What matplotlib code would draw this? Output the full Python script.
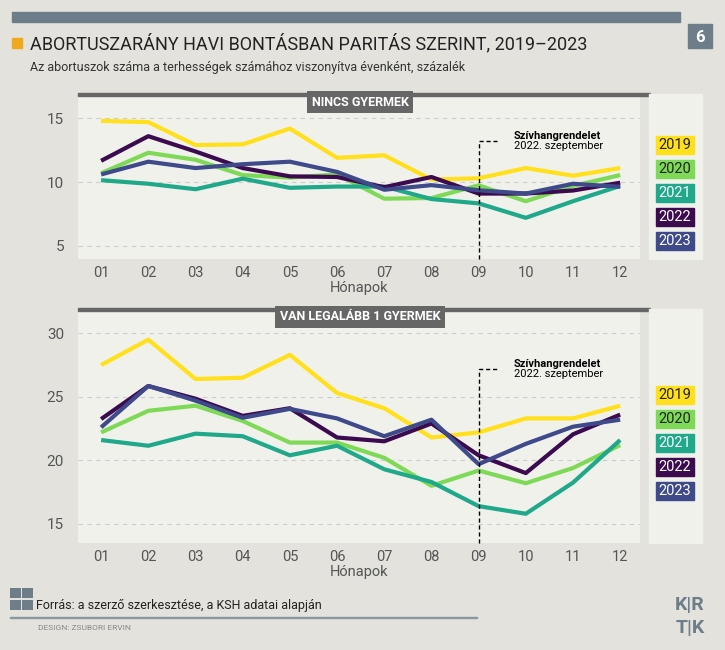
import matplotlib
matplotlib.use("Agg")
import matplotlib.pyplot as plt
from matplotlib.patches import Rectangle

plt.rcParams['font.family'] = ['Roboto', 'DejaVu Sans']

months = ['01','02','03','04','05','06','07','08','09','10','11','12']
years = ['2019','2020','2021','2022','2023']
colors = ['#ffe01b','#7ed957','#1fa88a','#3b0a4f','#3f4a8a']
text_colors = ['#222222','#222222','#ffffff','#ffffff','#ffffff']

nincs_2019 = [14.8,14.7,12.9,12.96,14.2,11.9,12.1,10.2,10.3,11.1,10.5,11.1]
nincs_2020 = [10.7,12.3,11.75,10.55,10.35,10.6,8.7,8.75,9.75,8.5,9.7,10.55]
nincs_2021 = [10.15,9.87,9.44,10.27,9.55,9.65,9.65,8.67,8.33,7.2,8.5,9.7]
nincs_2022 = [11.67,13.6,12.4,11.1,10.45,10.4,9.6,10.4,9.1,9.1,9.34,9.95]
nincs_2023 = [10.6,11.6,11.1,11.4,11.6,10.8,9.4,9.76,9.36,9.1,9.87,9.63]

van_2019 = [27.5,29.5,26.4,26.5,28.3,25.3,24.1,21.8,22.2,23.3,23.3,24.3]
van_2020 = [22.2,23.9,24.3,23.1,21.4,21.4,20.2,18.0,19.2,18.2,19.4,21.2]
van_2021 = [21.6,21.15,22.1,21.9,20.4,21.15,19.3,18.3,16.4,15.8,18.25,21.6]
van_2022 = [23.25,25.85,24.85,23.5,24.1,21.8,21.5,22.9,20.4,19.0,22.05,23.6]
van_2023 = [22.6,25.85,24.7,23.35,24.05,23.3,21.9,23.2,19.7,21.3,22.65,23.2]

W, H = 725, 650
BG = '#e3e2dc'
PANEL = '#f1f1ec'
fig = plt.figure(figsize=(7.25, 6.5), dpi=100, facecolor=BG)

def box(x, y, w, h):
    return [x / W, 1 - (y + h) / H, w / W, h / H]

# header
fig.patches.append(Rectangle((12/W, 1-22/H), 668/W, 10/H, transform=fig.transFigure, color='#6d7d8a'))
fig.patches.append(Rectangle((688/W, 1-48/H), 24/W, 24/H, transform=fig.transFigure, color='#6d7d8a'))
fig.text(700/W, 1-37/H, '6', color='white', fontsize=12, fontweight='bold', ha='center', va='center')
fig.patches.append(Rectangle((12/W, 1-48/H), 10/W, 10/H, transform=fig.transFigure, color='#f0a81c'))
fig.text(30/W, 1-44/H, 'ABORTUSZARÁNY HAVI BONTÁSBAN PARITÁS SZERINT, 2019–2023', fontsize=13, color='#222222', va='center')
fig.text(30/W, 1-67/H, 'Az abortuszok száma a terhességek számához viszonyítva évenként, százalék', fontsize=9, color='#333333', va='center')

def panel(y0, h, title, data, ylim, yticks, ann_y, leg_off):
    ax = fig.add_axes(box(78, y0, 562, h))
    ax.set_facecolor(PANEL)
    x = list(range(1, 13))
    for d, c in zip(data, colors):
        ax.plot(x, d, color=c, lw=3, solid_capstyle='butt')
    ax.set_xlim(0.51, 12.42)
    ax.set_ylim(*ylim)
    ax.set_yticks(yticks)
    for t in yticks:
        ax.axhline(t, color='#cccccc', lw=0.8, ls=(0, (4, 4)), zorder=0)
    ax.set_xticks(x)
    ax.set_xticklabels(months)
    ax.tick_params(length=0, labelsize=10.5, labelcolor='#555555', pad=5)
    ax.tick_params(axis='y', pad=10, labelsize=11)
    for s in ax.spines.values():
        s.set_visible(False)
    ax.set_xlabel('Hónapok', fontsize=10.5, color='#555555', labelpad=1)
    ax.plot([9, 9, 9.4], [ylim[0], ann_y, ann_y], color='black', lw=1, ls=(0, (3, 2)), clip_on=False)
    ax.text(9.74, ann_y, 'Szívhangrendelet', fontsize=8, fontweight='bold', va='bottom')
    ax.text(9.74, ann_y, '2022. szeptember', fontsize=8, va='top')
    fig.patches.append(Rectangle((78/W, 1-(y0)/H), 572/W, 3/H, transform=fig.transFigure, color='#666666'))
    fig.text(360/W, 1-(y0+6)/H, title, fontsize=9, fontweight='bold', color='white', ha='center', va='center',
             bbox=dict(boxstyle='square,pad=0.35', fc='#666666', ec='none'))
    # legend panel
    fig.patches.append(Rectangle((649/W, 1-(y0+h)/H), 53/W, (h+2)/H, transform=fig.transFigure, color=PANEL))
    for i, (yr, c, tc) in enumerate(zip(years, colors, text_colors)):
        cy = y0 + leg_off + i * 24
        fig.patches.append(Rectangle((656/W, 1-(cy+9)/H), 38/W, 18/H, transform=fig.transFigure, color=c))
        fig.text(675/W, 1-cy/H, yr, fontsize=10.5, color=tc, ha='center', va='center')

panel(96, 163, 'NINCS GYERMEK', [nincs_2019, nincs_2020, nincs_2021, nincs_2022, nincs_2023], (3.97, 16.75), [5, 10, 15], 13.2, 49)
panel(311, 232, 'VAN LEGALÁBB 1 GYERMEK', [van_2019, van_2020, van_2021, van_2022, van_2023], (13.5, 31.75), [15, 20, 25, 30], 27.2, 84)

# footer
for dx, dy in [(0, 0), (12, 0), (0, 12), (12, 12)]:
    fig.patches.append(Rectangle(((10+dx)/W, 1-(598+dy)/H), 10.5/W, 10.5/H, transform=fig.transFigure, color='#6d7d8a', lw=0))
fig.text(36/W, 1-605/H, 'Forrás: a szerző szerkesztése, a KSH adatai alapján', fontsize=9, color='#222222', va='center')
fig.patches.append(Rectangle((10/W, 1-618/H), 467/W, 1.5/H, transform=fig.transFigure, color='#8a98a3'))
fig.text(38/W, 1-628/H, 'DESIGN: ZSUBORI ERVIN', fontsize=6, color='#888888', va='center')
fig.text(690/W, 1-605/H, 'K|R', fontsize=14, fontweight='bold', color='#6d7d8a', ha='center', va='center')
fig.text(690/W, 1-628/H, 'T|K', fontsize=14, fontweight='bold', color='#6d7d8a', ha='center', va='center')

fig.savefig('out.png', dpi=100, facecolor=BG)
